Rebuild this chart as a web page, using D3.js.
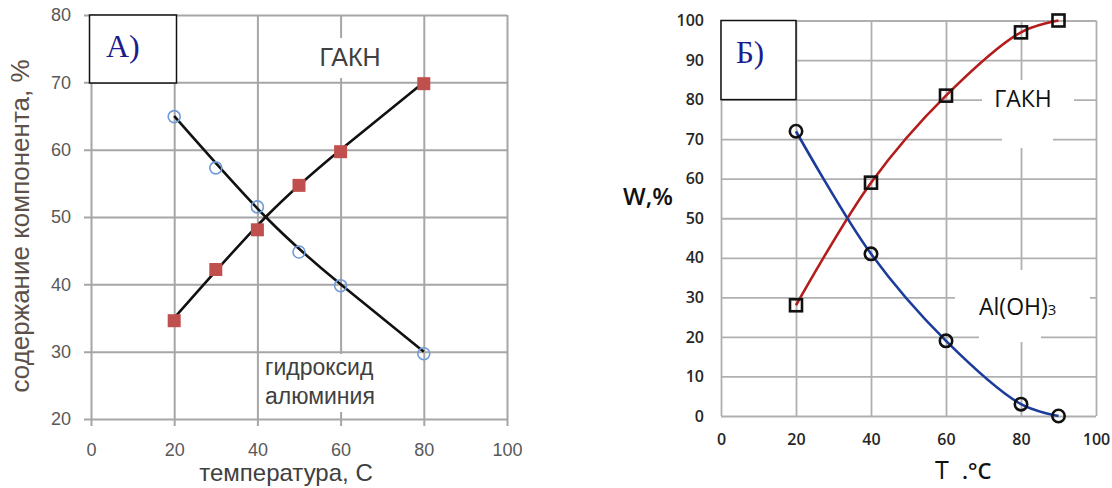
<!DOCTYPE html>
<meta charset="utf-8">
<style>
  body { margin: 0; background: #fff; }
  svg { display: block; }
</style>
<body>
<script src="https://cdn.jsdelivr.net/npm/d3@7"></script>
<script>

// ---- panel A data
var xTicksA = [0, 20, 40, 60, 80, 100],
    yTicksA = [20, 30, 40, 50, 60, 70, 80];
var tempA    = [20, 30, 40, 50, 60, 80],
    gaknA    = [34.6, 42.2, 48.1, 54.7, 59.7, 69.8],
    hydroxA  = [64.9, 57.3, 51.5, 44.8, 39.8, 29.7];
// trend lines as they are drawn on the picture
var fitX     = [20, 42, 60, 80],
    gaknFitA = [35, 50, 60, 70],
    hydFitA  = [65, 50, 40, 30];

// ---- panel B data
var xTicksB = [0, 20, 40, 60, 80, 100],
    yTicksB = [0, 10, 20, 30, 40, 50, 60, 70, 80, 90, 100];
var tempB   = [20, 40, 60, 80, 90],
    gaknB   = [28, 59, 81, 97, 100],
    alohB   = [72, 41, 19, 3, 0];

var width = 1112, height = 488;

var svg = d3.select("body").append("svg")
    .attr("width", width)
    .attr("height", height);

// =========================== panel A ===========================
var xA = d3.scaleLinear().domain([0, 100]).range([91, 507]),
    yA = d3.scaleLinear().domain([20, 80]).range([419, 15]);

var gA = svg.append("g").attr("font-family", "'Liberation Sans', Arial, sans-serif");

var axA = gA.append("g")
    .attr("transform", "translate(" + xA(0) + ",0)")
    .call(d3.axisLeft(yA).tickValues(yTicksA).tickSizeInner(-(xA(100) - xA(0))).tickSizeOuter(0).tickPadding(20));
axA.select(".domain").remove();
axA.selectAll(".tick line").attr("x1", -7).attr("stroke", "#a6a6a6").attr("stroke-width", 2);
axA.selectAll(".tick text").attr("fill", "#595959").attr("font-size", 18).attr("font-family", "'Liberation Sans', Arial, sans-serif");

var axBA = gA.append("g")
    .attr("transform", "translate(0," + yA(20) + ")")
    .call(d3.axisBottom(xA).tickValues(xTicksA).tickSizeInner(-(yA(20) - yA(80))).tickSizeOuter(0).tickPadding(24));
axBA.select(".domain").remove();
axBA.selectAll(".tick line").attr("y1", 7).attr("stroke", "#a6a6a6").attr("stroke-width", 2);
axBA.selectAll(".tick text").attr("fill", "#595959").attr("font-size", 18).attr("font-family", "'Liberation Sans', Arial, sans-serif");

// white boxes behind the labels
gA.append("rect").attr("x", 316).attr("y", 38).attr("width", 68).attr("height", 40).attr("fill", "#fff");
gA.append("rect").attr("x", 262).attr("y", 354).attr("width", 120).attr("height", 58).attr("fill", "#fff");

// trend lines
var lineA = d3.line().x(d => xA(d[0])).y(d => yA(d[1])).curve(d3.curveNatural);
gA.append("path")
    .datum(d3.zip(fitX, gaknFitA))
    .attr("d", lineA).attr("fill", "none").attr("stroke", "#111").attr("stroke-width", 2.6);
gA.append("path")
    .datum(d3.zip(fitX, hydFitA))
    .attr("d", lineA).attr("fill", "none").attr("stroke", "#111").attr("stroke-width", 2.6);

// markers
gA.selectAll(".sqA").data(d3.zip(tempA, gaknA)).enter()
  .append("rect").attr("class", "sqA")
    .attr("x", d => xA(d[0]) - 6.5).attr("y", d => yA(d[1]) - 6.5)
    .attr("width", 13).attr("height", 13)
    .attr("fill", "#c0504d");
gA.selectAll(".ciA").data(d3.zip(tempA, hydroxA)).enter()
  .append("circle").attr("class", "ciA")
    .attr("cx", d => xA(d[0])).attr("cy", d => yA(d[1])).attr("r", 6)
    .attr("fill", "none").attr("stroke", "#6f9bd6").attr("stroke-width", 1.6);

// labels
gA.append("text").attr("x", 350).attr("y", 66).attr("text-anchor", "middle")
    .attr("font-size", 25).attr("fill", "#404040").text("ГАКН");
gA.append("text").attr("x", 265).attr("y", 375)
    .attr("font-size", 23).attr("fill", "#404040").text("гидроксид");
gA.append("text").attr("x", 265).attr("y", 404)
    .attr("font-size", 23).attr("fill", "#404040").text("алюминия");

gA.append("text").attr("x", 286).attr("y", 481).attr("text-anchor", "middle")
    .attr("font-size", 24).attr("fill", "#404040").text("температура, С");
gA.append("text").attr("transform", "translate(29,226) rotate(-90)").attr("text-anchor", "middle")
    .attr("font-size", 26).attr("fill", "#5c5048").text("содержание компонента, %");

// box A)
gA.append("rect").attr("x", 89.5).attr("y", 15).attr("width", 87).attr("height", 68)
    .attr("fill", "#fff").attr("stroke", "#111").attr("stroke-width", 1.5);
gA.append("text").attr("x", 106).attr("y", 57)
    .attr("font-family", "'Liberation Serif', 'Times New Roman', serif")
    .attr("font-size", 32).attr("fill", "#1c1c8c").text("A)");

// =========================== panel B ===========================
var xB = d3.scaleLinear().domain([0, 100]).range([721, 1096]),
    yB = d3.scaleLinear().domain([0, 100]).range([416, 20.5]);

var gB = svg.append("g").attr("font-family", "'Open Sans', sans-serif");

var axB = gB.append("g")
    .attr("transform", "translate(" + xB(0) + ",0)")
    .call(d3.axisLeft(yB).tickValues(yTicksB).tickSizeInner(-(xB(100) - xB(0))).tickSizeOuter(0).tickPadding(17));
axB.select(".domain").remove();
axB.selectAll(".tick line").attr("stroke", "#b0b0b0").attr("stroke-width", 1.8);
axB.selectAll(".tick text").attr("fill", "#262626").attr("font-size", 16).attr("font-weight", 600)
    .attr("font-family", "'Open Sans', sans-serif");

var axBB = gB.append("g")
    .attr("transform", "translate(0," + yB(0) + ")")
    .call(d3.axisBottom(xB).tickValues(xTicksB).tickSizeInner(-(yB(0) - yB(100))).tickSizeOuter(0).tickPadding(18));
axBB.select(".domain").remove();
axBB.selectAll(".tick line").attr("stroke", "#b0b0b0").attr("stroke-width", 1.8);
axBB.selectAll(".tick text").attr("fill", "#262626").attr("font-size", 16).attr("font-weight", 600)
    .attr("font-family", "'Open Sans', sans-serif");

// white boxes behind the labels
gB.append("rect").attr("x", 982).attr("y", 80).attr("width", 92).attr("height", 40).attr("fill", "#fff");
gB.append("rect").attr("x", 1002).attr("y", 120).attr("width", 51).attr("height", 28).attr("fill", "#fff");
gB.append("rect").attr("x", 955).attr("y", 270).attr("width", 135).attr("height", 56).attr("fill", "#fff");
gB.append("rect").attr("x", 979).attr("y", 326).attr("width", 62).attr("height", 16).attr("fill", "#fff");

// smoothed series lines
var lineB = d3.line().x(d => xB(d[0])).y(d => yB(d[1])).curve(d3.curveCatmullRom.alpha(0.5));
gB.append("path")
    .datum(d3.zip(tempB, gaknB))
    .attr("d", lineB).attr("fill", "none").attr("stroke", "#b51c1c").attr("stroke-width", 2.6);
gB.append("path")
    .datum(d3.zip(tempB, alohB))
    .attr("d", lineB).attr("fill", "none").attr("stroke", "#1c3c9c").attr("stroke-width", 2.6);

gB.selectAll(".sqB").data(d3.zip(tempB, gaknB)).enter()
  .append("rect").attr("class", "sqB")
    .attr("x", d => xB(d[0]) - 6).attr("y", d => yB(d[1]) - 6)
    .attr("width", 12).attr("height", 12)
    .attr("fill", "none").attr("stroke", "#111").attr("stroke-width", 2.6);
gB.selectAll(".ciB").data(d3.zip(tempB, alohB)).enter()
  .append("circle").attr("class", "ciB")
    .attr("cx", d => xB(d[0])).attr("cy", d => yB(d[1])).attr("r", 6.2)
    .attr("fill", "none").attr("stroke", "#111").attr("stroke-width", 2.6);

// labels
gB.append("text").attr("x", 1023).attr("y", 107).attr("text-anchor", "middle")
    .attr("font-size", 23).attr("fill", "#111").text("ГАКН");
var al = gB.append("text").attr("x", 979).attr("y", 315)
    .attr("font-size", 23).attr("fill", "#111");
al.append("tspan").text("Al(OH)");
al.append("tspan").attr("font-size", 15).text("3");

gB.append("text").attr("x", 623).attr("y", 205)
    .attr("font-size", 24).attr("font-weight", 600).attr("fill", "#111").text("W,%");
gB.append("text").attr("x", 935).attr("y", 479)
    .attr("font-size", 25).attr("fill", "#111").text("T");
gB.append("text").attr("x", 962).attr("y", 479)
    .attr("font-size", 22).attr("font-weight", 600).attr("fill", "#111").text(".°C");

// box Б)
gB.append("rect").attr("x", xB(0)).attr("y", yB(100)).attr("width", xB(20) - xB(0)).attr("height", yB(80) - yB(100))
    .attr("fill", "#fff").attr("stroke", "#111").attr("stroke-width", 1.5);
gB.append("text").attr("x", 736).attr("y", 63)
    .attr("font-family", "'Liberation Serif', 'Times New Roman', serif")
    .attr("font-size", 31).attr("fill", "#1c1c8c").text("Б)");

</script>
